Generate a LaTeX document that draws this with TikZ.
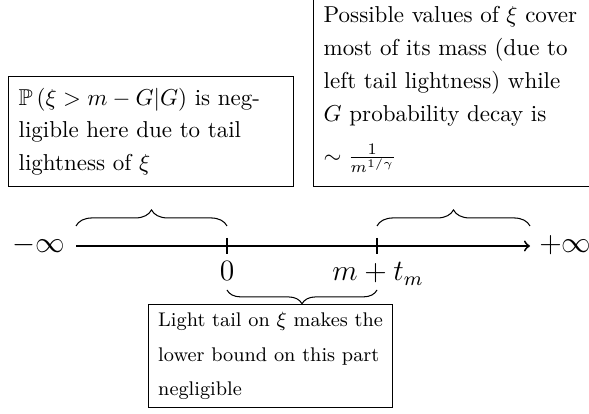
\documentclass[tikz,border=0pt]{standalone}
\usepackage{amsmath,amssymb}
\usetikzlibrary{decorations.pathreplacing}
\begin{document}
\begin{tikzpicture}[x=0.4348pt,y=-0.4348pt,
  axisline/.style={line width=0.8pt},
  lbl/.style={inner sep=0pt,font=\fontsize{12}{15}\selectfont},
  brc/.style={decorate,decoration={brace,amplitude=7pt},line width=0.45pt},
  brcb/.style={decorate,decoration={brace,amplitude=6pt},line width=0.45pt},
  txtbox/.style={draw,line width=0.6pt,align=left,inner xsep=4.35pt,
    font=\fontsize{10}{14.3}\selectfont}]
\useasboundingbox (0,0) rectangle (589,414);
% axis
\coordinate (start) at (76,246);
\coordinate (end) at (530,246);
\coordinate (z) at (227,246);
\coordinate (mt) at (377,246);
\draw[axisline,->] (start) -- (end);
\draw[axisline] (z) ++(0,-8) -- ++(0,16);
\draw[axisline] (mt) ++(0,-8) -- ++(0,16);
% labels
\node[lbl,anchor=base east] (minf) at (65.5,253) {\scalebox{1.07}{$-\infty$}};
\node[lbl,anchor=base west] (pinf) at (539,253) {\scalebox{1.07}{$+\infty$}};
\node[lbl,anchor=base] (zero) at (227,281) {\scalebox{1.07}{$0$}};
\node[lbl,anchor=base] (mtl) at (378,281) {\scalebox{1.07}{$m+t_m$}};
% braces
\coordinate (b1a) at (76,226);
\coordinate (b1b) at (227,226);
\coordinate (b2a) at (377,226);
\coordinate (b2b) at (530,226);
\coordinate (b3a) at (377,290);
\coordinate (b3b) at (227,290);
\draw[brc] (b1a) -- (b1b);
\draw[brc] (b2a) -- (b2b);
\draw[brcb] (b3a) -- (b3b);
% boxes
\node[txtbox,anchor=north west,text width=115.2pt,minimum height=47.8pt] (lbox) at (8,76)
  {$\mathbb{P}\left(\xi > m - G|G\right)$ is neg-\\
   ligible here due to tail\\
   lightness of $\xi$};
\node[txtbox,anchor=south west,text width=114pt,inner ysep=6pt] (rbox) at (313,187)
  {Possible values of $\xi$ cover\\
   most of its mass (due to\\
   left tail lightness) while\\
   $G$ probability decay is\\[4pt]
   $\sim\frac{1}{m^{1/\gamma}}$};
\node[txtbox,anchor=north west,inner xsep=2pt,minimum width=106pt,minimum height=44.3pt,
  font=\fontsize{8.6}{15}\selectfont] (bbox) at (148,304)
  {Light tail on $\xi$ makes the\\
   lower bound on this part\\
   negligible};
\end{tikzpicture}
\end{document}
